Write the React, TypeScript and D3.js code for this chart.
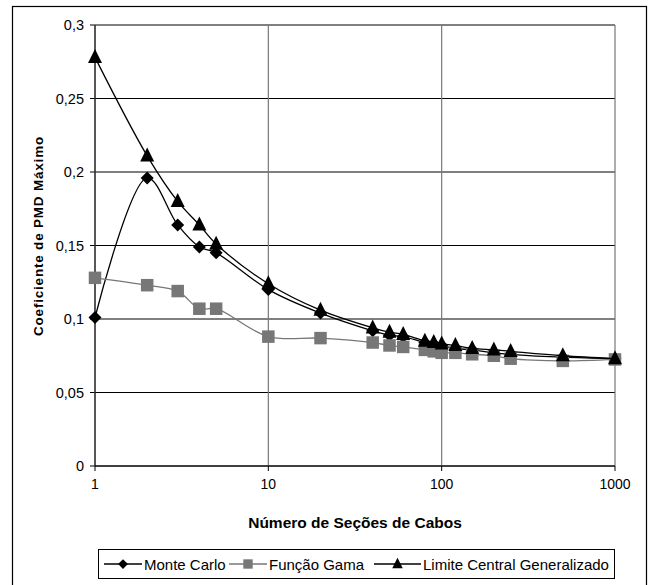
import React from "react";
import * as d3 from "d3";

// number of cable sections (x, log scale)
const secoes = [1, 2, 3, 4, 5, 10, 20, 40, 50, 60, 80, 90, 100, 120, 150, 200, 250, 500, 1000];

const monteCarlo = [0.101, 0.196, 0.164, 0.149, 0.145, 0.12, 0.104, 0.092, 0.089, 0.088, 0.084, 0.083, 0.082, 0.08, 0.079, 0.077, 0.076, 0.074, 0.073];
const funcaoGama = [0.128, 0.123, 0.119, 0.107, 0.107, 0.088, 0.087, 0.084, 0.082, 0.081, 0.079, 0.078, 0.077, 0.077, 0.076, 0.075, 0.073, 0.0715, 0.0725];
const limiteCentral = [0.278, 0.211, 0.18, 0.164, 0.151, 0.124, 0.106, 0.094, 0.091, 0.0895, 0.085, 0.084, 0.083, 0.082, 0.08, 0.079, 0.078, 0.075, 0.073];

const yTicks = [0, 0.05, 0.1, 0.15, 0.2, 0.25, 0.3];
const xTicks = [1, 10, 100, 1000];

const seriesNames = ["Monte Carlo", "Função Gama", "Limite Central Generalizado"];

const FONT = "'Liberation Sans', Arial, sans-serif";

const Marker = ({ kind, x, y, k = 1 }: { kind: string; x: number; y: number; k?: number }) => {
  if (kind === "diamond") {
    const r = 6.5 * k;
    return <path d={`M${x},${y - r}L${x + r},${y}L${x},${y + r}L${x - r},${y}Z`} fill="#000" />;
  }
  if (kind === "square") {
    const s = 12.5 * k;
    return <rect x={x - s / 2} y={y - s / 2} width={s} height={s} fill="#777" />;
  }
  const w = 14 * k;
  const h = 14 * k;
  return <path d={`M${x},${y - h * 0.6}L${x + w / 2},${y + h * 0.4}L${x - w / 2},${y + h * 0.4}Z`} fill="#000" />;
};

const App = () => {
  const x = d3.scaleLog().domain([1, 1000]).range([95, 615]);
  const y = d3.scaleLinear().domain([0, 0.3]).range([466, 25]);

  const line = d3
    .line<number>()
    .x((_, i) => x(secoes[i]))
    .y((d) => y(d))
    .curve(d3.curveCatmullRom.alpha(0.5));

  const series = [
    { values: monteCarlo, kind: "diamond", color: "#000", width: 1.3 },
    { values: funcaoGama, kind: "square", color: "#777", width: 1.3 },
    { values: limiteCentral, kind: "triangle", color: "#000", width: 1.3 },
  ];

  const fmt = (v: number) => String(+v.toFixed(2)).replace(".", ",");

  // legend layout
  const legendItems = [
    { lx1: 104, lx2: 142, tx: 144 },
    { lx1: 229, lx2: 267, tx: 269 },
    { lx1: 374, lx2: 421, tx: 423 },
  ];

  return (
    <svg
      width={653}
      height={585}
      style={{ position: "absolute", left: 0, top: 0, background: "#fff" }}
      fontFamily={FONT}
    >
      <rect x={0} y={0} width={653} height={585} fill="#fff" />
      {/* outer frame */}
      <rect x={12.5} y={6.5} width={634} height={590} fill="none" stroke="#000" strokeWidth={1.2} />

      {/* horizontal grid */}
      {yTicks.map((t) => (
        <g key={t}>
          <line x1={x(1)} x2={x(1000)} y1={y(t)} y2={y(t)} stroke="#000" strokeWidth={1} />
          <line x1={x(1) - 5} x2={x(1)} y1={y(t)} y2={y(t)} stroke="#000" />
          <text x={84} y={y(t) + 5} textAnchor="end" fontSize={14.5}>
            {fmt(t)}
          </text>
        </g>
      ))}
      {/* vertical grid */}
      {xTicks.map((t) => (
        <g key={t}>
          <line x1={x(t)} x2={x(t)} y1={y(0.3)} y2={y(0)} stroke="#777" strokeWidth={1.2} />
          <line x1={x(t)} x2={x(t)} y1={y(0)} y2={y(0) + 5} stroke="#000" />
          <text x={x(t)} y={489} textAnchor="middle" fontSize={14}>
            {t}
          </text>
        </g>
      ))}
      <line x1={x(1)} x2={x(1)} y1={y(0.3)} y2={y(0)} stroke="#000" strokeWidth={1} />
      <line x1={x(1)} x2={x(1000)} y1={y(0)} y2={y(0)} stroke="#000" strokeWidth={1} />

      {/* series */}
      {series.map((s, si) => (
        <g key={si}>
          <path d={line(s.values) || ""} fill="none" stroke={s.color} strokeWidth={s.width} />
          {s.values.map((v, i) => (
            <Marker key={i} kind={s.kind} x={x(secoes[i])} y={y(v)} />
          ))}
        </g>
      ))}

      {/* axis titles */}
      <text x={355} y={528} textAnchor="middle" fontSize={15.5} fontWeight="bold">
        Número de Seções de Cabos
      </text>
      <text
        transform="translate(43,236) rotate(-90)"
        textAnchor="middle"
        fontSize={13.5}
        fontWeight="bold"
        letterSpacing={0.8}
      >
        Coeficiente de PMD Máximo
      </text>

      {/* legend */}
      <rect x={98.5} y={549.5} width={516} height={29} fill="#fff" stroke="#000" strokeWidth={1} />
      {legendItems.map((l, i) => (
        <g key={i}>
          <line x1={l.lx1} x2={l.lx2} y1={564} y2={564} stroke={series[i].color} strokeWidth={1.3} />
          <Marker kind={series[i].kind} x={(l.lx1 + l.lx2) / 2} y={564} k={0.75} />
          <text x={l.tx} y={569.5} fontSize={15}>
            {seriesNames[i]}
          </text>
        </g>
      ))}
    </svg>
  );
};

export default App;
